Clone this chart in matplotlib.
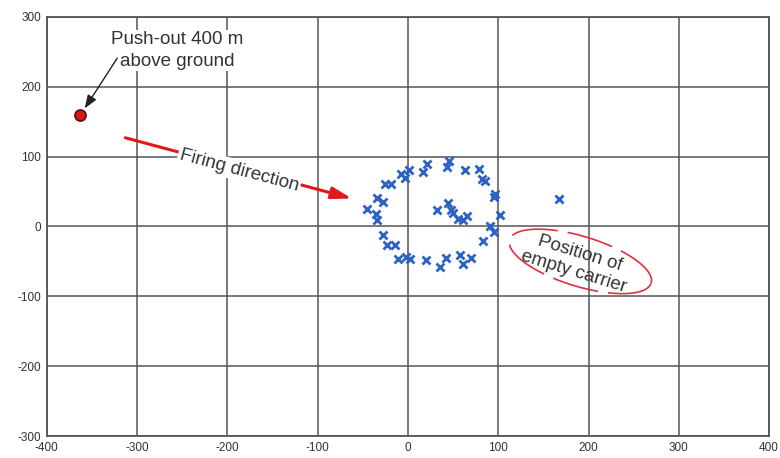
import numpy as np
import matplotlib; matplotlib.use("Agg"); import matplotlib.pyplot as plt

# impact points of submunitions (m)
xs = [45.4, 42.9, 20.7, 16.3, 1.4, -7.8, -3.3, 63.2, 79.0, 81.7, 85.3, -25.5, -19.2,
      -34.0, -27.4, -45.8, -35.5, -34.7, 96.4, 95.3, 44.7, 32.5, 47.3, 50.2, 55.7, 61.3,
      65.0, 101.9, 90.9, 95.3, -27.4, -23.6, -14.4, 82.8, -10.7, -2.2, 2.2, 19.9, 42.1,
      35.5, 57.6, 69.5, 60.6, 167.6]
ys = [93.6, 85.0, 88.8, 77.8, 81.2, 75.5, 69.8, 81.2, 81.7, 68.3, 64.9, 60.2, 60.2,
      41.1, 34.8, 24.4, 17.2, 9.6, 46.8, 42.0, 33.4, 23.9, 22.9, 19.1, 11.0, 8.6,
      14.3, 15.8, 1.4, -8.2, -11.9, -25.8, -27.2, -20.1, -46.3, -43.0, -46.3, -47.7, -44.8,
      -57.3, -41.5, -44.8, -54.4, 38.7]
push_x, push_y = -363, 159
ticks_x = list(range(-400, 401, 100))
ticks_y = list(range(-300, 301, 100))

plt.rcParams['font.family'] = ['Liberation Sans', 'DejaVu Sans']
plt.rcParams['axes.unicode_minus'] = False
fig = plt.figure(figsize=(7.8, 4.58), dpi=100)
ax = fig.add_axes([0.06, 0.048, 0.926, 0.915])
ax.set_xlim(-400, 400); ax.set_ylim(-300, 300)
ax.set_xticks(ticks_x); ax.set_yticks(ticks_y)
ax.tick_params(length=0, labelsize=8.5, colors="#333333", pad=4)
ax.grid(True, color="#555555", lw=1.1)
for s in ax.spines.values():
    s.set_color("#555555"); s.set_linewidth(1.3)

ax.plot(xs, ys, "x", color="#2b62c4", ms=6, mew=2, zorder=3)
ax.plot(push_x, push_y, "o", color="#d01818", mec="#5a1010", ms=8, mew=1.2, zorder=4)

ax.text(-256, 252, "Push-out 400 m\nabove ground", ha="center", va="center",
        fontsize=13.5, color="#333333", linespacing=1.4,
        bbox=dict(boxstyle="square,pad=0.05", fc="white", ec="none"), zorder=5)
ax.annotate("", xy=(-358, 169), xytext=(-322, 241),
            arrowprops=dict(arrowstyle="-|>,head_width=0.3,head_length=0.8", color="#222222",
                            lw=1, shrinkA=0, shrinkB=0), zorder=6)

ax.annotate("", xy=(-62, 40), xytext=(-313, 127),
            arrowprops=dict(arrowstyle="-|>,head_width=0.35,head_length=1.2", color="#e01818",
                            lw=2.2, shrinkA=0, shrinkB=0), zorder=4)
ax.text(-187, 80, "Firing direction", rotation=-15, ha="center", va="center",
        fontsize=13.5, color="#333333", rotation_mode="anchor",
        bbox=dict(boxstyle="square,pad=0.1", fc="white", ec="none"), zorder=5)

ax.text(187, -52, "Position of\nempty carrier", rotation=-17, ha="center", va="center",
        fontsize=13.5, color="#333333", rotation_mode="anchor", linespacing=1.15, zorder=5)
# hand-drawn style ellipse around the carrier label (built in pixel offsets)
sx = ax.bbox.width / 800.0; sy = ax.bbox.height / 600.0
t = np.linspace(0, 2 * np.pi, 200)
a, b, ang = 74, 25, np.deg2rad(-17)
ex = a * np.cos(t) * np.cos(ang) - b * np.sin(t) * np.sin(ang)
ey = a * np.cos(t) * np.sin(ang) + b * np.sin(t) * np.cos(ang)
ax.plot(191 + ex / sx, -50 + ey / sy, color="#e03040", lw=1.2, ls=(0, (28, 6)), zorder=4)

fig.savefig("out.png", dpi=100)
